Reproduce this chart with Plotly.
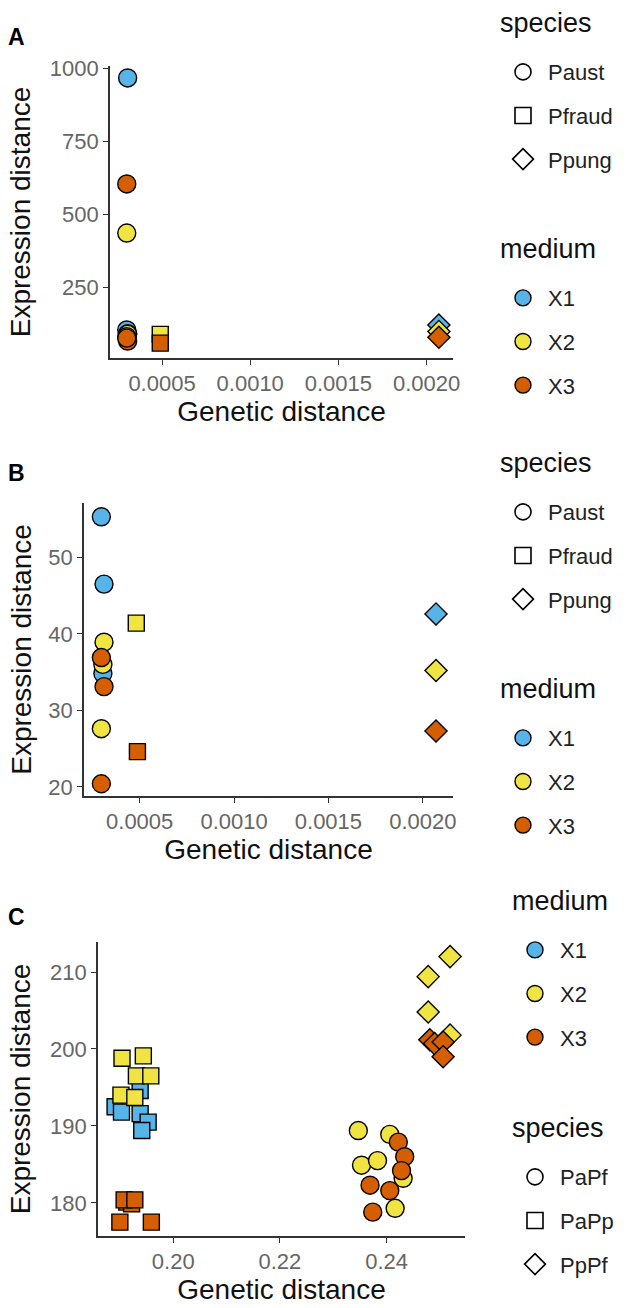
import plotly.graph_objects as go

# ---------------- data ----------------
MEDIUM_COLORS = {"X1": "#56B4E9", "X2": "#F0E442", "X3": "#D55E00"}
media = ["X1", "X2", "X3"]

# Panel A
A_species = ["Paust"] * 9 + ["Pfraud"] * 2 + ["Ppung"] * 3
A_medium = ["X1", "X1", "X1", "X2", "X2", "X2", "X3", "X3", "X3", "X2", "X3", "X1", "X2", "X3"]
A_genetic = [0.000305, 0.000300, 0.000305, 0.000300, 0.000305, 0.000300, 0.000300, 0.000305, 0.000300,
             0.000490, 0.000490, 0.00207, 0.00207, 0.00207]
A_expression = [966, 103, 90, 435, 88, 80, 603, 65, 75, 88, 58, 120, 98, 78]

# Panel B
B_species = ["Paust"] * 9 + ["Pfraud"] * 2 + ["Ppung"] * 3
B_medium = ["X1", "X1", "X1", "X2", "X2", "X2", "X3", "X3", "X3", "X2", "X3", "X1", "X2", "X3"]
B_genetic = [0.000297, 0.000311, 0.000305, 0.000311, 0.000297, 0.000305, 0.000297, 0.000311, 0.000297,
             0.000482, 0.000488, 0.00207, 0.00207, 0.00207]
B_expression = [55.3, 46.5, 34.8, 38.9, 27.6, 36.0, 36.9, 33.1, 20.4, 41.4, 24.6, 42.6, 35.2, 27.3]

# Panel C
C_species = (["PaPf"] * 12 + ["PaPp"] * 18 + ["PpPf"] * 8)
C_medium = (["X2"] * 6 + ["X3"] * 6 + ["X1"] * 6 + ["X2"] * 6 + ["X3"] * 6 + ["X2"] * 4 + ["X3"] * 4)
C_genetic = [0.2347, 0.2406, 0.2353, 0.2383, 0.2431, 0.2416,
             0.2422, 0.2434, 0.2428, 0.2369, 0.2406, 0.2374,
             0.1891, 0.1903, 0.1938, 0.1938, 0.1953, 0.1941,
             0.1904, 0.1944, 0.1931, 0.1958, 0.1902, 0.1928,
             0.1913, 0.1922, 0.1900, 0.1959, 0.1908, 0.1928,
             0.2519, 0.2478, 0.2478, 0.2519,
             0.2481, 0.2490, 0.2506, 0.2506]
C_expression = [189.4, 188.9, 184.9, 185.5, 183.2, 179.3,
                187.9, 186.0, 184.2, 182.3, 181.6, 178.8,
                192.5, 191.8, 194.6, 191.6, 190.5, 189.4,
                198.8, 199.1, 196.5, 196.5, 194.0, 193.7,
                180.1, 179.9, 177.5, 177.5, 180.4, 180.4,
                212.0, 209.4, 204.8, 201.8,
                201.2, 200.7, 200.9, 199.0]

AB_species_levels = ["Paust", "Pfraud", "Ppung"]
C_species_levels = ["PaPf", "PaPp", "PpPf"]
SYMBOLS_AB = {"Paust": "circle", "Pfraud": "square", "Ppung": "diamond"}
SYMBOLS_C = {"PaPf": "circle", "PaPp": "square", "PpPf": "diamond"}
SIZES = {"circle": 18, "square": 16, "diamond": 17}

FONT = "Liberation Sans, Arial, sans-serif"
W, H = 633, 1308

fig = go.Figure()


def add_panel(genetic, expression, medium, species, symmap, xa, ya):
    for m in media:
        idx = [i for i, v in enumerate(medium) if v == m]
        if not idx:
            continue
        syms = [symmap[species[i]] for i in idx]
        fig.add_trace(go.Scatter(
            x=[genetic[i] for i in idx], y=[expression[i] for i in idx],
            mode="markers", xaxis=xa, yaxis=ya, showlegend=False,
            marker=dict(symbol=syms, size=[SIZES[s] for s in syms], color=MEDIUM_COLORS[m],
                        opacity=1, line=dict(color="black", width=1.4)),
            name=m,
        ))


def spacer():
    return dict(text=" ", font=dict(family=FONT, size=4))


def add_species_legend(levels, symmap, legend, xa, ya):
    for j, s in enumerate(levels):
        fig.add_trace(go.Scatter(
            x=[None], y=[None], mode="markers", xaxis=xa, yaxis=ya, name=s,
            legend=legend, legendgroup=legend + s,
            legendgrouptitle=spacer() if j == 0 else None,
            marker=dict(symbol=symmap[s] + "-open", size=16, color="black", opacity=1,
                        line=dict(color="black", width=1.6)),
        ))


def add_medium_legend(legend, xa, ya):
    for j, m in enumerate(media):
        fig.add_trace(go.Scatter(
            x=[None], y=[None], mode="markers", xaxis=xa, yaxis=ya, name=m,
            legend=legend, legendgroup=legend + m,
            legendgrouptitle=spacer() if j == 0 else None,
            marker=dict(symbol="circle", size=16, color=MEDIUM_COLORS[m], opacity=1,
                        line=dict(color="black", width=1.4)),
        ))


add_panel(A_genetic, A_expression, A_medium, A_species, SYMBOLS_AB, "x", "y")
add_panel(B_genetic, B_expression, B_medium, B_species, SYMBOLS_AB, "x2", "y2")
add_panel(C_genetic, C_expression, C_medium, C_species, SYMBOLS_C, "x3", "y3")

add_species_legend(AB_species_levels, SYMBOLS_AB, "legend", "x", "y")
add_medium_legend("legend2", "x", "y")
add_species_legend(AB_species_levels, SYMBOLS_AB, "legend3", "x2", "y2")
add_medium_legend("legend4", "x2", "y2")
add_medium_legend("legend5", "x3", "y3")
add_species_legend(C_species_levels, SYMBOLS_C, "legend6", "x3", "y3")


def px_x(p):
    """page pixel -> paper fraction"""
    return p / W


def px_y(p):
    return 1 - p / H


axis_common = dict(
    showgrid=False, zeroline=False, showline=True, linecolor="#333333", linewidth=1.6,
    ticks="outside", ticklen=5, tickwidth=1.4, tickcolor="#333333", automargin=False,
    tickfont=dict(family=FONT, size=22, color="#666666"),
    title_font=dict(family=FONT, size=28, color="#111111"),
)

panels = [
    # (x dom px, y dom px, xrange, yrange, xticks, yticks, xfmt, x standoff, y standoff)
    ((110, 453), (66, 358), [0.000205, 0.00215], [7, 1007],
     [0.0005, 0.0010, 0.0015, 0.0020], [250, 500, 750, 1000], ".4f", 6, 11),
    ((84, 453), (503, 796), [0.000205, 0.00216], [18.8, 57.1],
     [0.0005, 0.0010, 0.0015, 0.0020], [20, 30, 40, 50], ".4f", 6, 9),
    ((98, 465), (942, 1236), [0.1859, 0.2547], [175.7, 213.9],
     [0.20, 0.22, 0.24], [180, 190, 200, 210], ".2f", 6, 11),
]

layout = dict(
    template="none",
    width=W, height=H, margin=dict(l=0, r=0, t=0, b=0, autoexpand=False),
    paper_bgcolor="white", plot_bgcolor="white",
    font=dict(family=FONT, color="#111111"),
)
for k, (xd, yd, xr, yr, xt, yt, xf, xso, yso) in enumerate(panels):
    sfx = "" if k == 0 else str(k + 1)
    layout["xaxis" + sfx] = dict(
        axis_common, domain=[px_x(xd[0]), px_x(xd[1])], range=xr, anchor="y" + sfx,
        tickvals=xt, tickformat=xf, title=dict(text="Genetic distance", standoff=xso),
    )
    layout["yaxis" + sfx] = dict(
        axis_common, domain=[px_y(yd[1]), px_y(yd[0])], range=yr, anchor="x" + sfx,
        tickvals=yt, title=dict(text="Expression distance", standoff=yso),
    )

legend_common = dict(
    xanchor="left", yanchor="top", bgcolor="rgba(0,0,0,0)", borderwidth=0,
    font=dict(family=FONT, size=22, color="#222222"),
    itemsizing="trace", itemwidth=40, tracegroupgap=12, traceorder="grouped",
)
legend_pos = {
    "legend": (498, -3, "species"),
    "legend2": (498, 223, "medium"),
    "legend3": (498, 437, "species"),
    "legend4": (498, 663, "medium"),
    "legend5": (510, 875, "medium"),
    "legend6": (510, 1102, "species"),
}
for name, (lx, ly, title) in legend_pos.items():
    layout[name] = dict(
        legend_common, x=px_x(lx), y=px_y(ly),
        title=dict(text=title, font=dict(family=FONT, size=27, color="#111111")),
    )

annotations = []
for lab, ypx in [("A", 37), ("B", 473), ("C", 917)]:
    annotations.append(dict(
        text="<b>%s</b>" % lab, x=px_x(6), y=px_y(ypx), xref="paper", yref="paper",
        xanchor="left", yanchor="middle", showarrow=False,
        font=dict(family=FONT, size=23, color="black"),
    ))
layout["annotations"] = annotations

fig.update_layout(**layout)
# the page's default 8px body margin would shift the figure; remove it
fig.write_html("out.html", config={"displayModeBar": False},
               post_script="document.body.style.margin='0px';document.body.style.overflow='hidden';")
